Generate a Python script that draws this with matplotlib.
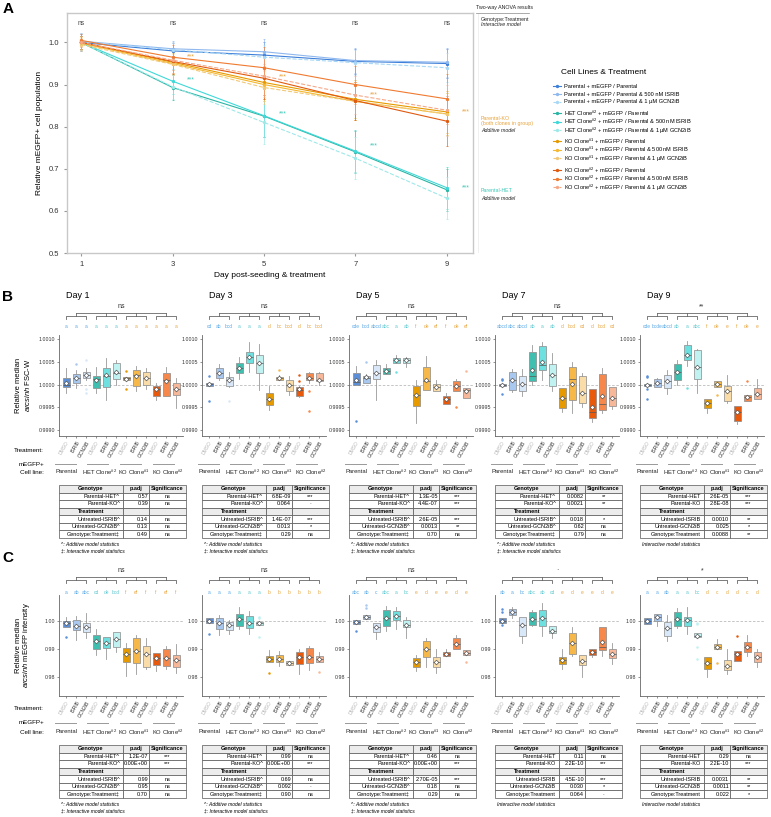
import numpy as np
import matplotlib
matplotlib.use("Agg")
import matplotlib.pyplot as plt
import matplotlib.transforms as mtransforms

plt.rcParams['font.family'] = ['Liberation Sans', 'DejaVu Sans']
plt.rcParams['mathtext.fontset'] = 'custom'
plt.rcParams['mathtext.rm'] = 'Liberation Sans'
plt.rcParams['mathtext.it'] = 'Liberation Sans:italic'

W, H = 771, 817

# ---------------- Panel A data ----------------
days = [1, 3, 5, 7, 9]
par_dmso = [1.000, 0.980, 0.970, 0.955, 0.950]
par_isrib = [1.003, 0.985, 0.978, 0.957, 0.953]
par_gcn = [1.002, 0.983, 0.965, 0.952, 0.940]
het_dmso = [1.000, 0.893, 0.825, 0.740, 0.650]
het_isrib = [1.000, 0.908, 0.826, 0.742, 0.655]
het_gcn = [1.000, 0.895, 0.810, 0.725, 0.630]
ko1_dmso = [1.000, 0.953, 0.905, 0.865, 0.835]
ko1_isrib = [0.998, 0.950, 0.900, 0.860, 0.830]
ko1_gcn = [0.995, 0.948, 0.893, 0.860, 0.830]
ko2_dmso = [1.000, 0.955, 0.915, 0.862, 0.813]
ko2_isrib = [1.005, 0.965, 0.940, 0.900, 0.866]
ko2_gcn = [1.000, 0.958, 0.920, 0.875, 0.839]
par_sd = [0.020, 0.018, 0.030, 0.030, 0.035]
het_sd = [0.015, 0.030, 0.050, 0.050, 0.050]
ko1_sd = [0.015, 0.025, 0.040, 0.045, 0.050]
ko2_sd = [0.015, 0.030, 0.050, 0.045, 0.060]
a_sig_days = [3, 5, 7, 9]
a_sig_ko = [0.965, 0.918, 0.875, 0.835]
a_sig_het = [0.910, 0.830, 0.755, 0.655]

legend_labels = [
    'Parental + mEGFP / Parental',
    'Parental + mEGFP / Parental & 500 nM ISRIB',
    'Parental + mEGFP / Parental & 1 µM GCN2iB',
    r'HET Clone$^{\#2}$ + mEGFP / Parental',
    r'HET Clone$^{\#2}$ + mEGFP / Parental & 500 nM ISRIB',
    r'HET Clone$^{\#2}$ + mEGFP / Parental & 1 µM GCN2iB',
    r'KO Clone$^{\#1}$ + mEGFP / Parental',
    r'KO Clone$^{\#1}$ + mEGFP / Parental & 500 nM ISRIB',
    r'KO Clone$^{\#1}$ + mEGFP / Parental & 1 µM GCN2iB',
    r'KO Clone$^{\#2}$ + mEGFP / Parental',
    r'KO Clone$^{\#2}$ + mEGFP / Parental & 500 nM ISRIB',
    r'KO Clone$^{\#2}$ + mEGFP / Parental & 1 µM GCN2iB',
]

# ---------------- Panels B/C data ----------------
treatments = ['DMSO', 'ISRIB', 'GCN2iB'] * 4
cell_lines = ['Parental', r'HET Clone$^{\#2}$', r'KO Clone$^{\#1}$', r'KO Clone$^{\#2}$']
day_titles = ['Day 1', 'Day 3', 'Day 5', 'Day 7', 'Day 9']

# (whisker low, q1, median, q3, whisker high, mean) in 1e-4 units above/below 1
fsc_day1 = [(-1.9, -0.6, 0.0, 1.4, 3.6, 0.3), (-0.7, 0.3, 1.4, 2.3, 3.2, 1.4), (1.0, 1.4, 2.1, 2.8, 3.6, 2.1),
            (-1.9, -0.8, 1.2, 1.9, 3.9, 1.0), (-3.4, -0.6, 1.9, 3.6, 5.8, 2.1), (-0.1, 1.2, 2.6, 4.7, 5.4, 2.8),
            (0.9, 0.9, 1.4, 1.6, 1.6, 1.3), (-1.5, -0.4, 2.1, 3.2, 4.1, 1.9), (-1.0, -0.1, 1.4, 2.8, 3.6, 1.4),
            (-3.4, -2.5, -0.9, -0.4, 0.3, -1.0), (-2.5, -2.5, 1.0, 2.5, 3.9, 0.7), (-5.2, -2.3, -0.9, 0.3, 1.4, -0.9)]
fsc_day3 = [(-0.3, -0.3, 0.2, 0.4, 0.4, 0.1), (1.0, 1.4, 2.6, 3.6, 4.6, 2.6), (-0.6, -0.4, 1.0, 1.6, 2.8, 1.0),
            (1.2, 2.5, 3.6, 4.7, 6.0, 3.6), (2.8, 4.7, 6.1, 7.2, 9.4, 6.1), (-1.2, 2.5, 4.8, 6.5, 9.0, 4.8),
            (-5.5, -4.5, -3.1, -1.9, -0.4, -3.1), (0.9, 0.9, 1.4, 1.6, 2.0, 1.4), (-2.2, -1.5, 0.0, 1.0, 1.9, -0.1),
            (-2.8, -2.5, -1.2, -0.6, -0.3, -1.0), (0.4, 0.9, 1.5, 2.5, 2.8, 1.4), (0.0, 0.7, 1.0, 2.5, 2.8, 1.0)]
fsc_day5 = [(-0.1, -0.1, 0.5, 2.5, 4.0, 1.0), (0.3, 0.3, 1.4, 1.9, 2.3, 1.6), (-3.4, 1.2, 2.5, 4.3, 5.4, 2.5),
            (2.3, 2.3, 3.0, 3.6, 4.5, 3.0), (4.8, 4.8, 5.4, 5.8, 6.5, 5.4), (3.8, 4.7, 5.3, 5.8, 6.0, 5.3),
            (-8.5, -4.8, -2.3, -0.3, 1.0, -2.3), (-1.2, -1.2, 0.8, 3.9, 6.3, 1.0), (-1.5, -1.5, -0.6, 0.1, 0.9, -0.6),
            (-4.2, -4.2, -3.2, -2.5, -1.8, -3.2), (-1.5, -1.5, -0.4, 0.7, 1.2, -0.4), (-3.0, -3.0, -1.2, -0.8, -0.8, -1.5)]
fsc_day7 = [(-0.4, -0.4, 0.0, 0.1, 0.1, 0.0), (-1.6, -1.2, 0.9, 2.8, 3.4, 0.9), (-2.6, -1.5, 0.1, 1.8, 3.5, 0.1),
            (-0.1, 0.7, 1.8, 7.2, 8.7, 3.1), (1.0, 3.1, 4.3, 8.5, 9.4, 5.0), (-1.4, -0.4, 2.1, 4.5, 6.9, 2.1),
            (-6.1, -5.2, -3.0, -0.8, -0.8, -3.0), (-6.2, -3.4, 1.2, 3.9, 4.9, 0.1), (-5.0, -4.1, -1.8, 1.9, 2.6, -1.8),
            (-8.3, -7.4, -6.1, -0.9, -0.9, -5.0), (-6.2, -5.5, -4.2, 2.3, 3.6, -2.6), (-5.3, -4.8, -3.0, -0.6, -0.6, -3.0)]
fsc_day9 = [(-0.4, -0.4, 0.0, 0.1, 0.1, 0.0), (-0.6, -0.6, 0.3, 1.2, 1.5, 0.3), (-2.0, -0.8, 0.7, 2.1, 3.2, 0.7),
            (0.0, 0.9, 2.8, 4.5, 5.3, 2.8), (4.0, 5.4, 6.4, 8.7, 9.5, 6.4), (-1.9, 1.2, 3.8, 7.6, 7.8, 3.8),
            (-6.3, -5.2, -4.1, -3.2, -3.2, -4.1), (-0.6, -0.6, 0.1, 0.7, 0.7, 0.1), (-4.0, -3.7, -1.5, -0.4, 2.0, -1.5),
            (-8.6, -8.1, -6.1, -4.8, -4.8, -6.1), (-3.7, -3.7, -2.8, -2.3, -2.3, -2.8), (-3.2, -3.2, -2.0, -0.8, 1.2, -2.0)]
fsc_fliers = [
    [(2, 4.5), (3, 5.3), (3, -1.0), (3, -1.9), (7, 3.0), (7, -1.0)],
    [(1, 1.9), (1, -3.5), (3, -3.6), (8, 3.2), (10, 2.1), (10, 0.7), (11, -1.5), (11, -5.7)],
    [(1, -8.1), (2, 5.0), (5, 2.8), (11, -5.0), (12, 3.0)],
    [(1, 1.2), (1, 0.9), (1, -2.0)],
    [(1, 1.9), (1, 1.6), (1, -1.0), (1, -3.2), (5, -0.7), (8, -2.3), (11, 0.7)],
]
fsc_letters = [
    'a a a a a a a a a a a a'.split(),
    'cd ab bcd a a a d bc bcd d bc bcd'.split(),
    'cde bcd abcd abc a ab f de ef f de ef'.split(),
    'abcd abc abcd ab a ab d bcd cd d bcd cd'.split(),
    'cde bcde abcd ab a abc f de e f de e'.split(),
]
fsc_overall = ['ns', 'ns', 'ns', 'ns', '**']

# (whisker low, q1, median, q3, whisker high, mean) in 1e-3 units above/below 1
gfp_day1 = [(-2.0, -2.0, -0.8, 0.0, 1.6, -0.8), (-6.8, -3.2, -1.8, 0.4, 1.8, -1.8), (-5.9, -3.8, -2.3, -0.6, 3.0, -2.3),
            (-12.1, -10.0, -7.0, -5.0, -3.0, -7.0), (-13.4, -9.8, -8.0, -5.8, -5.8, -8.0), (-11.0, -9.4, -6.5, -3.8, -3.8, -6.5),
            (-19.8, -14.5, -11.9, -9.8, -8.0, -11.9), (-19.0, -14.9, -10.6, -6.2, -5.0, -10.6), (-17.0, -16.5, -11.8, -8.9, -6.0, -11.8),
            (-18.0, -15.7, -13.3, -11.3, -11.3, -13.3), (-17.0, -16.0, -13.3, -10.1, -9.0, -13.3), (-18.5, -16.3, -13.9, -12.1, -8.2, -13.9)]
gfp_day3 = [(-0.6, -0.6, 0.1, 1.0, 1.0, 0.1), (-5.0, -3.0, -0.6, 1.0, 2.3, -0.6), (-4.5, -3.2, -1.4, -0.2, 0.5, -1.4),
            (-3.0, -1.8, 0.7, 2.5, 5.0, 0.7), (-4.5, -2.6, -0.8, 1.8, 3.6, -0.8), (-1.4, -1.4, -0.6, -0.2, -0.2, -0.6),
            (-14.5, -14.5, -13.5, -12.5, -10.4, -13.5), (-16.0, -14.5, -13.5, -12.1, -10.8, -13.5), (-15.7, -15.7, -14.9, -14.2, -14.2, -14.9),
            (-19.0, -15.5, -13.0, -11.0, -10.0, -13.0), (-17.5, -14.9, -12.7, -9.8, -9.0, -12.7), (-14.5, -14.5, -13.5, -12.5, -11.2, -13.5)]
gfp_day5 = [(-1.1, -1.1, -0.3, 0.4, 0.4, -0.3), (0.6, 0.6, 1.5, 2.1, 2.1, 1.5), (-6.4, -3.8, -2.2, -0.6, -0.6, -2.2),
            (-3.5, -1.8, 1.0, 3.9, 5.2, 1.0), (-3.0, 0.4, 1.7, 3.7, 5.0, 1.7), (-6.0, -2.3, -1.4, 0.4, 1.5, -1.4),
            (-18.0, -16.3, -14.8, -13.3, -12.2, -14.8), (-16.5, -12.7, -10.1, -7.0, -6.0, -10.1), (-18.5, -16.3, -14.8, -13.0, -10.0, -14.8),
            (-12.5, -12.5, -11.8, -11.0, -10.0, -11.8), (-10.0, -10.0, -8.3, -6.2, -5.0, -8.3), (-12.1, -12.1, -11.3, -10.4, -10.4, -11.3)]
gfp_day7 = [(-0.6, -0.6, 0.1, 1.0, 1.0, 0.1), (1.2, 2.1, 3.1, 4.2, 5.0, 3.1), (-8.0, -5.4, -1.4, 1.5, 1.5, -1.4),
            (-1.8, -1.4, 0.7, 3.1, 4.0, 0.7), (-5.5, -1.8, 1.0, 3.9, 6.5, 1.0), (-6.0, -4.4, -3.5, -1.8, -1.8, -3.5),
            (-17.0, -15.4, -13.9, -12.7, -10.0, -13.9), (-12.5, -11.8, -7.7, -4.2, -2.0, -7.7), (-20.0, -15.7, -14.2, -12.1, -12.1, -14.2),
            (-13.0, -12.1, -11.2, -10.1, -10.1, -11.2), (-12.5, -10.4, -9.2, -2.0, -2.0, -7.4), (-15.5, -13.3, -11.8, -10.1, -8.0, -11.8)]
gfp_day9 = [(-1.1, -1.1, 0.0, 1.0, 1.0, 0.0), (-1.8, 0.1, 1.3, 2.5, 2.5, 1.3), (-7.0, -5.4, -2.6, -0.2, 2.0, -2.6),
            (-2.5, -1.8, 0.7, 3.1, 4.8, 0.7), (-4.5, -1.8, 0.4, 1.5, 5.0, 0.4), (-5.8, -5.8, -5.4, -4.2, -4.2, -5.4),
            (-20.0, -17.3, -14.9, -13.0, -13.0, -14.9), (-10.1, -10.1, -9.2, -8.2, -6.5, -9.2), (-19.0, -17.5, -16.1, -13.9, -10.0, -16.1),
            (-14.3, -14.3, -11.9, -10.6, -10.6, -11.9), (-12.5, -11.0, -9.2, -7.4, -5.0, -9.2), (-16.5, -14.5, -13.0, -11.0, -10.0, -13.0)]
gfp_fliers = [
    [(1, -5.8)],
    [(1, -4.6), (6, 1.5), (6, 1.0), (6, -5.8), (7, -18.5), (12, -18.1)],
    [(1, -3.5), (2, 5.7), (2, 4.5), (12, -14.5)],
    [(1, 4.2), (1, 3.3), (1, -1.6)],
    [(6, -0.6), (6, -1.1), (6, -9.2), (6, -13.7), (8, -14.9), (10, -5.4)],
]
gfp_letters = [
    'a ab abc cd de bcd f ef f f ef f'.split(),
    'a a a a a a b b b b b b'.split(),
    'abc ab c abc a bc e d e e d e'.split(),
    'ab a bc abc ab cd e d e e d e'.split(),
    'a a ab a a bc d c d d c d'.split(),
]
gfp_overall = ['ns', 'ns', 'ns', '·', '*']

# statistics tables
lab_add = ['Parental-HET^', 'Parental-KO^', 'Untreated-ISRIB^', 'Untreated-GCN2iB^', 'Genotype:Treatment‡']
lab_int = ['Parental-HET', 'Parental-KO', 'Untreated-ISRIB', 'Untreated-GCN2iB', 'Genotype:Treatment']
fsc_padj = [['0.57', '0.39', '0.14', '0.13', '0.49'],
            ['6.8E-09', '0.064', '1.4E-07', '0.013', '0.29'],
            ['1.3E-05', '4.4E-07', '2.6E-05', '0.0013', '0.70'],
            ['0.0082', '0.0021', '0.018', '0.62', '0.79'],
            ['2.6E-05', '2.8E-08', '0.0010', '0.025', '0.0088']]
fsc_signif = [['ns', 'ns', 'ns', 'ns', 'ns'],
              ['***', '·', '***', '*', 'ns'],
              ['***', '***', '***', '**', 'ns'],
              ['**', '**', '*', 'ns', 'ns'],
              ['***', '***', '**', '*', '**']]
fsc_additive = [True, True, True, True, False]
gfp_padj = [['1.2E-07', '0.00E+00', '0.99', '0.95', '0.70'],
            ['0.99', '0.00E+00', '0.69', '0.092', '0.90'],
            ['0.46', '0.00E+00', '2.70E-05', '0.18', '0.29'],
            ['0.11', '2.2E-10', '4.5E-10', '0.030', '0.064'],
            ['0.29', '2.2E-10', '0.0031', '0.0011', '0.022']]
gfp_signif = [['***', '***', 'ns', 'ns', 'ns'],
              ['ns', '***', 'ns', '·', 'ns'],
              ['ns', '***', '***', 'ns', 'ns'],
              ['ns', '***', '***', '*', '·'],
              ['ns', '***', '**', '**', '*']]
gfp_additive = [True, True, True, False, False]

# ---------------- styles ----------------
box_colors = ['#5b8fd9', '#a9c8f0', '#d9e8f8',
              '#3fbfb0', '#6ee0e0', '#c0f2f2',
              '#e69a00', '#f7b84a', '#fadca8',
              '#e8590c', '#f5884a', '#f7b89a']
line_colors = ['#3d7fd9', '#8fb8ee', '#a8d8f5',
               '#2ab5a5', '#40d8d8', '#9ee8e8',
               '#e69a00', '#f5b830', '#f0c878',
               '#e05a10', '#f07a30', '#f5a888']
line_styles = ['-', '-', '--'] * 4
letter_colors = ['#5aa9e6'] * 3 + ['#5cc8d0'] * 3 + ['#e8a640'] * 6
tick_colors = ['#b8b8b8', '#333333', '#333333'] * 4
panel_left = [59, 202, 349, 495, 640]
label_pos = [0.06, 0.33, 0.605, 0.875]   # cell-line labels, axes fraction
gline_pos = [0.05, 0.31, 0.58, 0.84]     # short lines above them
legend_rows = [86, 94, 102, 113, 121.7, 130.4, 141, 149.7, 158.4, 170, 178.7, 187.4]


def rect(l, t, w, h):
    return [l / W, 1 - (t + h) / H, w / W, h / H]


def ftext(x, y, s, **kw):
    return fig.text(x / W, 1 - y / H, s, **kw)


fig = plt.figure(figsize=(W / 100, H / 100), dpi=100)

# ================= Panel A =================
axA = fig.add_axes(rect(67, 13, 406, 240))
series = [par_dmso, par_isrib, par_gcn, het_dmso, het_isrib, het_gcn,
          ko1_dmso, ko1_isrib, ko1_gcn, ko2_dmso, ko2_isrib, ko2_gcn]
sds = [par_sd] * 3 + [het_sd] * 3 + [ko1_sd] * 3 + [ko2_sd] * 3
handles = []
for vals, sd, col, ls, lab in zip(series, sds, line_colors, line_styles, legend_labels):
    cont = axA.errorbar(days, vals, yerr=sd, color=col, ls=ls, lw=0.8, marker='o', ms=1.4,
                        capsize=1.0, elinewidth=0.45, capthick=0.45, label=lab)
    handles.append(cont[0])
for d in days:
    axA.text(d, 1.045, 'ns', ha='center', va='center', fontsize=4.8, color='#444444')
for d, yk, yh in zip(a_sig_days, a_sig_ko, a_sig_het):
    axA.text(d + 0.32, yk, '***', ha='left', va='center', fontsize=5, color='#e8a33d')
    axA.text(d + 0.32, yh, '***', ha='left', va='center', fontsize=5, color='#3cc8b8')
axA.set_xlim(0.69, 9.57)
axA.set_ylim(0.5, 1.07)
axA.set_xticks(days)
axA.set_yticks([0.5, 0.6, 0.7, 0.8, 0.9, 1.0])
axA.set_yticklabels(['0.5', '0.6', '0.7', '0.8', '0.9', '1.0'])
axA.tick_params(labelsize=5.5, length=2, color='#999999', labelcolor='#333333')
for s in axA.spines.values():
    s.set_color('#c8c8c8')
    s.set_linewidth(1.0)
axA.set_xlabel('Day post-seeding & treatment', fontsize=6, labelpad=3)
axA.set_ylabel('Relative mEGFP+ cell population', fontsize=6, labelpad=4)

# legend: one row per series, placed row by row
ftext(561, 72, 'Cell Lines & Treatment', fontsize=6, va='center')
for h, lab, row in zip(handles, legend_labels, legend_rows):
    fig.legend([h], [lab], loc='center left', bbox_to_anchor=(553 / W, 1 - row / H), frameon=False,
               fontsize=4.1, handlelength=1.4, handletextpad=0.5, borderaxespad=0, borderpad=0)

ftext(476, 8, 'Two-way ANOVA results', fontsize=3.8, va='center', color='#222222')
fig.add_artist(plt.Line2D([476 / W, 529 / W], [1 - 13 / H, 1 - 13 / H], color='#888888', lw=0.5))
fig.add_artist(plt.Line2D([478 / W, 478 / W], [1 - 14 / H, 1 - 252 / H], color='#eeeeee', lw=0.6))
ftext(481, 19, 'Genotype:Treatment', fontsize=3.8, va='center', color='#222222')
ftext(481, 25, 'Interactive model', fontsize=3.8, va='center', style='italic', color='#222222')
ftext(481, 118, 'Parental-KO', fontsize=3.8, va='center', color='#e8a33d')
ftext(481, 124, '(both clones in group)', fontsize=3.8, va='center', color='#e8a33d')
ftext(481, 130, 'Additive model', fontsize=3.8, va='center', style='italic', color='#222222')
ftext(481, 191, 'Parental-HET', fontsize=3.8, va='center', color='#3cc8b8')
ftext(481, 198, 'Additive model', fontsize=3.8, va='center', style='italic', color='#222222')


# ================= Panels B / C =================
def draw_boxes(ax, stats, fliers, unit):
    bx = []
    for k, (lo, q1, med, q3, hi, mean) in enumerate(stats):
        fl = [1 + v * unit for (b, v) in fliers if b == k + 1]
        bx.append(dict(whislo=1 + lo * unit, q1=1 + q1 * unit, med=1 + med * unit, q3=1 + q3 * unit,
                       whishi=1 + hi * unit, mean=1 + mean * unit, fliers=fl))
    ax.axhline(1.0, color='#bbbbbb', ls=(0, (3, 2)), lw=0.6, zorder=0)
    res = ax.bxp(bx, positions=range(1, 13), widths=0.7, patch_artist=True, showmeans=True,
                 showcaps=False,
                 boxprops=dict(edgecolor='#888888', linewidth=0.5),
                 whiskerprops=dict(color='#999999', linewidth=0.6),
                 medianprops=dict(color='#555555', linewidth=0.5),
                 meanprops=dict(marker='D', markerfacecolor='white', markeredgecolor='#555555',
                                markersize=2.4, markeredgewidth=0.5),
                 flierprops=dict(marker='o', markersize=1.8, markeredgewidth=0))
    for patch, c in zip(res['boxes'], box_colors):
        patch.set_facecolor(c)
    for f, c in zip(res['fliers'], box_colors):
        f.set_markerfacecolor(c)


def decorate(ax, letters, overall, y_sig, y_top, y_grp, y_tick, y_let, y_gline, y_glab):
    tr = mtransforms.blended_transform_factory(ax.transData, ax.transAxes)
    kw = dict(color='#666666', lw=0.6, transform=tr, clip_on=False)
    centers = [2, 5, 8, 11]
    ax.plot([centers[0], centers[-1]], [y_top, y_top], **kw)
    for c in centers:
        ax.plot([c, c], [y_top, y_grp], **kw)
        ax.plot([c - 1, c - 1, c + 1, c + 1], [y_tick, y_grp, y_grp, y_tick], **kw)
    for lp, gp, name in zip(label_pos, gline_pos, cell_lines):
        ax.plot([gp - 0.085, gp + 0.085], [y_gline, y_gline], color='#999999', lw=0.7,
                transform=ax.transAxes, clip_on=False)
        ax.text(lp, y_glab, name, transform=ax.transAxes, ha='center', va='center',
                fontsize=4.2, color='#222222')
    ax.text(6.5, y_sig, overall, transform=tr, ha='center', va='center', fontsize=5, color='#333333')
    for k, (lt, col) in enumerate(zip(letters, letter_colors)):
        ax.text(k + 1, y_let, lt, transform=tr, ha='center', va='center', fontsize=3.5, color=col)
    ax.set_xlim(0.3, 12.7)
    ax.set_xticks(range(1, 13))
    ax.set_xticklabels(treatments, rotation=60, ha='right', rotation_mode='anchor', fontsize=3.6)
    for lab, col in zip(ax.get_xticklabels(), tick_colors):
        lab.set_color(col)
    ax.tick_params(axis='both', length=1.5, width=0.5, color='#666666', pad=1.5)
    ax.tick_params(axis='y', labelsize=3.8, labelcolor='#333333')
    for s in ['top', 'right']:
        ax.spines[s].set_visible(False)
    for s in ['left', 'bottom']:
        ax.spines[s].set_color('#666666')
        ax.spines[s].set_linewidth(0.6)


def draw_table(left, top, padj, signif, additive):
    axt = fig.add_axes(rect(left, top, 127, 53))
    axt.axis('off')
    labels = lab_add if additive else lab_int
    cells = [['Genotype', 'p.adj', 'Significance'],
             [labels[0], padj[0], signif[0]],
             [labels[1], padj[1], signif[1]],
             ['Treatment', '', ''],
             [labels[2], padj[2], signif[2]],
             [labels[3], padj[3], signif[3]],
             [labels[4], padj[4], signif[4]]]
    tbl = axt.table(cellText=cells, colWidths=[0.5, 0.21, 0.29], cellLoc='center', bbox=[0, 0, 1, 1])
    tbl.auto_set_font_size(False)
    tbl.set_fontsize(4)
    for (r, c), cell in tbl.get_celld().items():
        cell.set_linewidth(0.5)
        cell.set_edgecolor('#555555')
        cell.PAD = 0.04
        if r in (0, 3):
            cell.set_facecolor('#ececec')
            cell.get_text().set_fontweight('bold')
        elif c in (0, 1):
            cell._loc = 'right'
            cell.get_text().set_ha('right')
    if additive:
        ftext(left + 2, top + 60, '^: Additive model statistics', fontsize=3.6, style='italic', va='center')
        ftext(left + 2, top + 66, '‡: Interactive model statistics', fontsize=3.6, style='italic', va='center')
    else:
        ftext(left + 2, top + 60, 'Interactive model statistics', fontsize=3.6, style='italic', va='center')


fsc_days = [fsc_day1, fsc_day3, fsc_day5, fsc_day7, fsc_day9]
gfp_days = [gfp_day1, gfp_day3, gfp_day5, gfp_day7, gfp_day9]

for i in range(5):
    # panel B
    ax = fig.add_axes(rect(panel_left[i], 335, 124, 101))
    draw_boxes(ax, fsc_days[i], fsc_fliers[i], 1e-4)
    ax.set_ylim(0.99887, 1.00109)
    ax.set_yticks([0.9990, 0.9995, 1.0000, 1.0005, 1.0010])
    ax.set_yticklabels(['0.9990', '0.9995', '1.0000', '1.0005', '1.0010'])
    decorate(ax, fsc_letters[i], fsc_overall[i], 1.28, 1.22, 1.185, 1.155, 1.08, -0.277, -0.356)
    ftext(panel_left[i] + 7, 296, day_titles[i], fontsize=6.5, va='center')
    draw_table(panel_left[i], 485, fsc_padj[i], fsc_signif[i], fsc_additive[i])

    # panel C
    ax = fig.add_axes(rect(panel_left[i], 595, 124, 101))
    draw_boxes(ax, gfp_days[i], gfp_fliers[i], 1e-3)
    ax.set_ylim(0.9732, 1.0093)
    ax.set_yticks([0.98, 0.99, 1.00])
    ax.set_yticklabels(['0.98', '0.99', '1.00'])
    decorate(ax, gfp_letters[i], gfp_overall[i], 1.24, 1.18, 1.15, 1.12, 1.02, -0.267, -0.356)
    draw_table(panel_left[i], 745, gfp_padj[i], gfp_signif[i], gfp_additive[i])

# row labels and axis titles for B / C
for t_y, m_y, c_y in [(451, 465, 473), (709, 723, 732)]:
    ftext(44, t_y, 'Treatment:', fontsize=4.5, ha='right', va='center')
    ftext(44, m_y, 'mEGFP+', fontsize=4.5, ha='right', va='center')
    ftext(44, c_y, 'Cell line:', fontsize=4.5, ha='right', va='center')
ftext(18, 385, 'Relative median', fontsize=5.5, rotation=90, ha='center', va='center')
ftext(27, 385, r'$\it{arcsinh}$ FSC-W', fontsize=5.5, rotation=90, ha='center', va='center')
ftext(18, 645, 'Relative median', fontsize=5.5, rotation=90, ha='center', va='center')
ftext(27, 645, r'$\it{arcsinh}$ mEGFP intensity', fontsize=5.5, rotation=90, ha='center', va='center')

# panel letters
ftext(3, 9, 'A', fontsize=11, fontweight='bold', va='center')
ftext(2, 297, 'B', fontsize=11, fontweight='bold', va='center')
ftext(2, 558, 'C', fontsize=11, fontweight='bold', va='center')

fig.savefig('out.png', dpi=100)
